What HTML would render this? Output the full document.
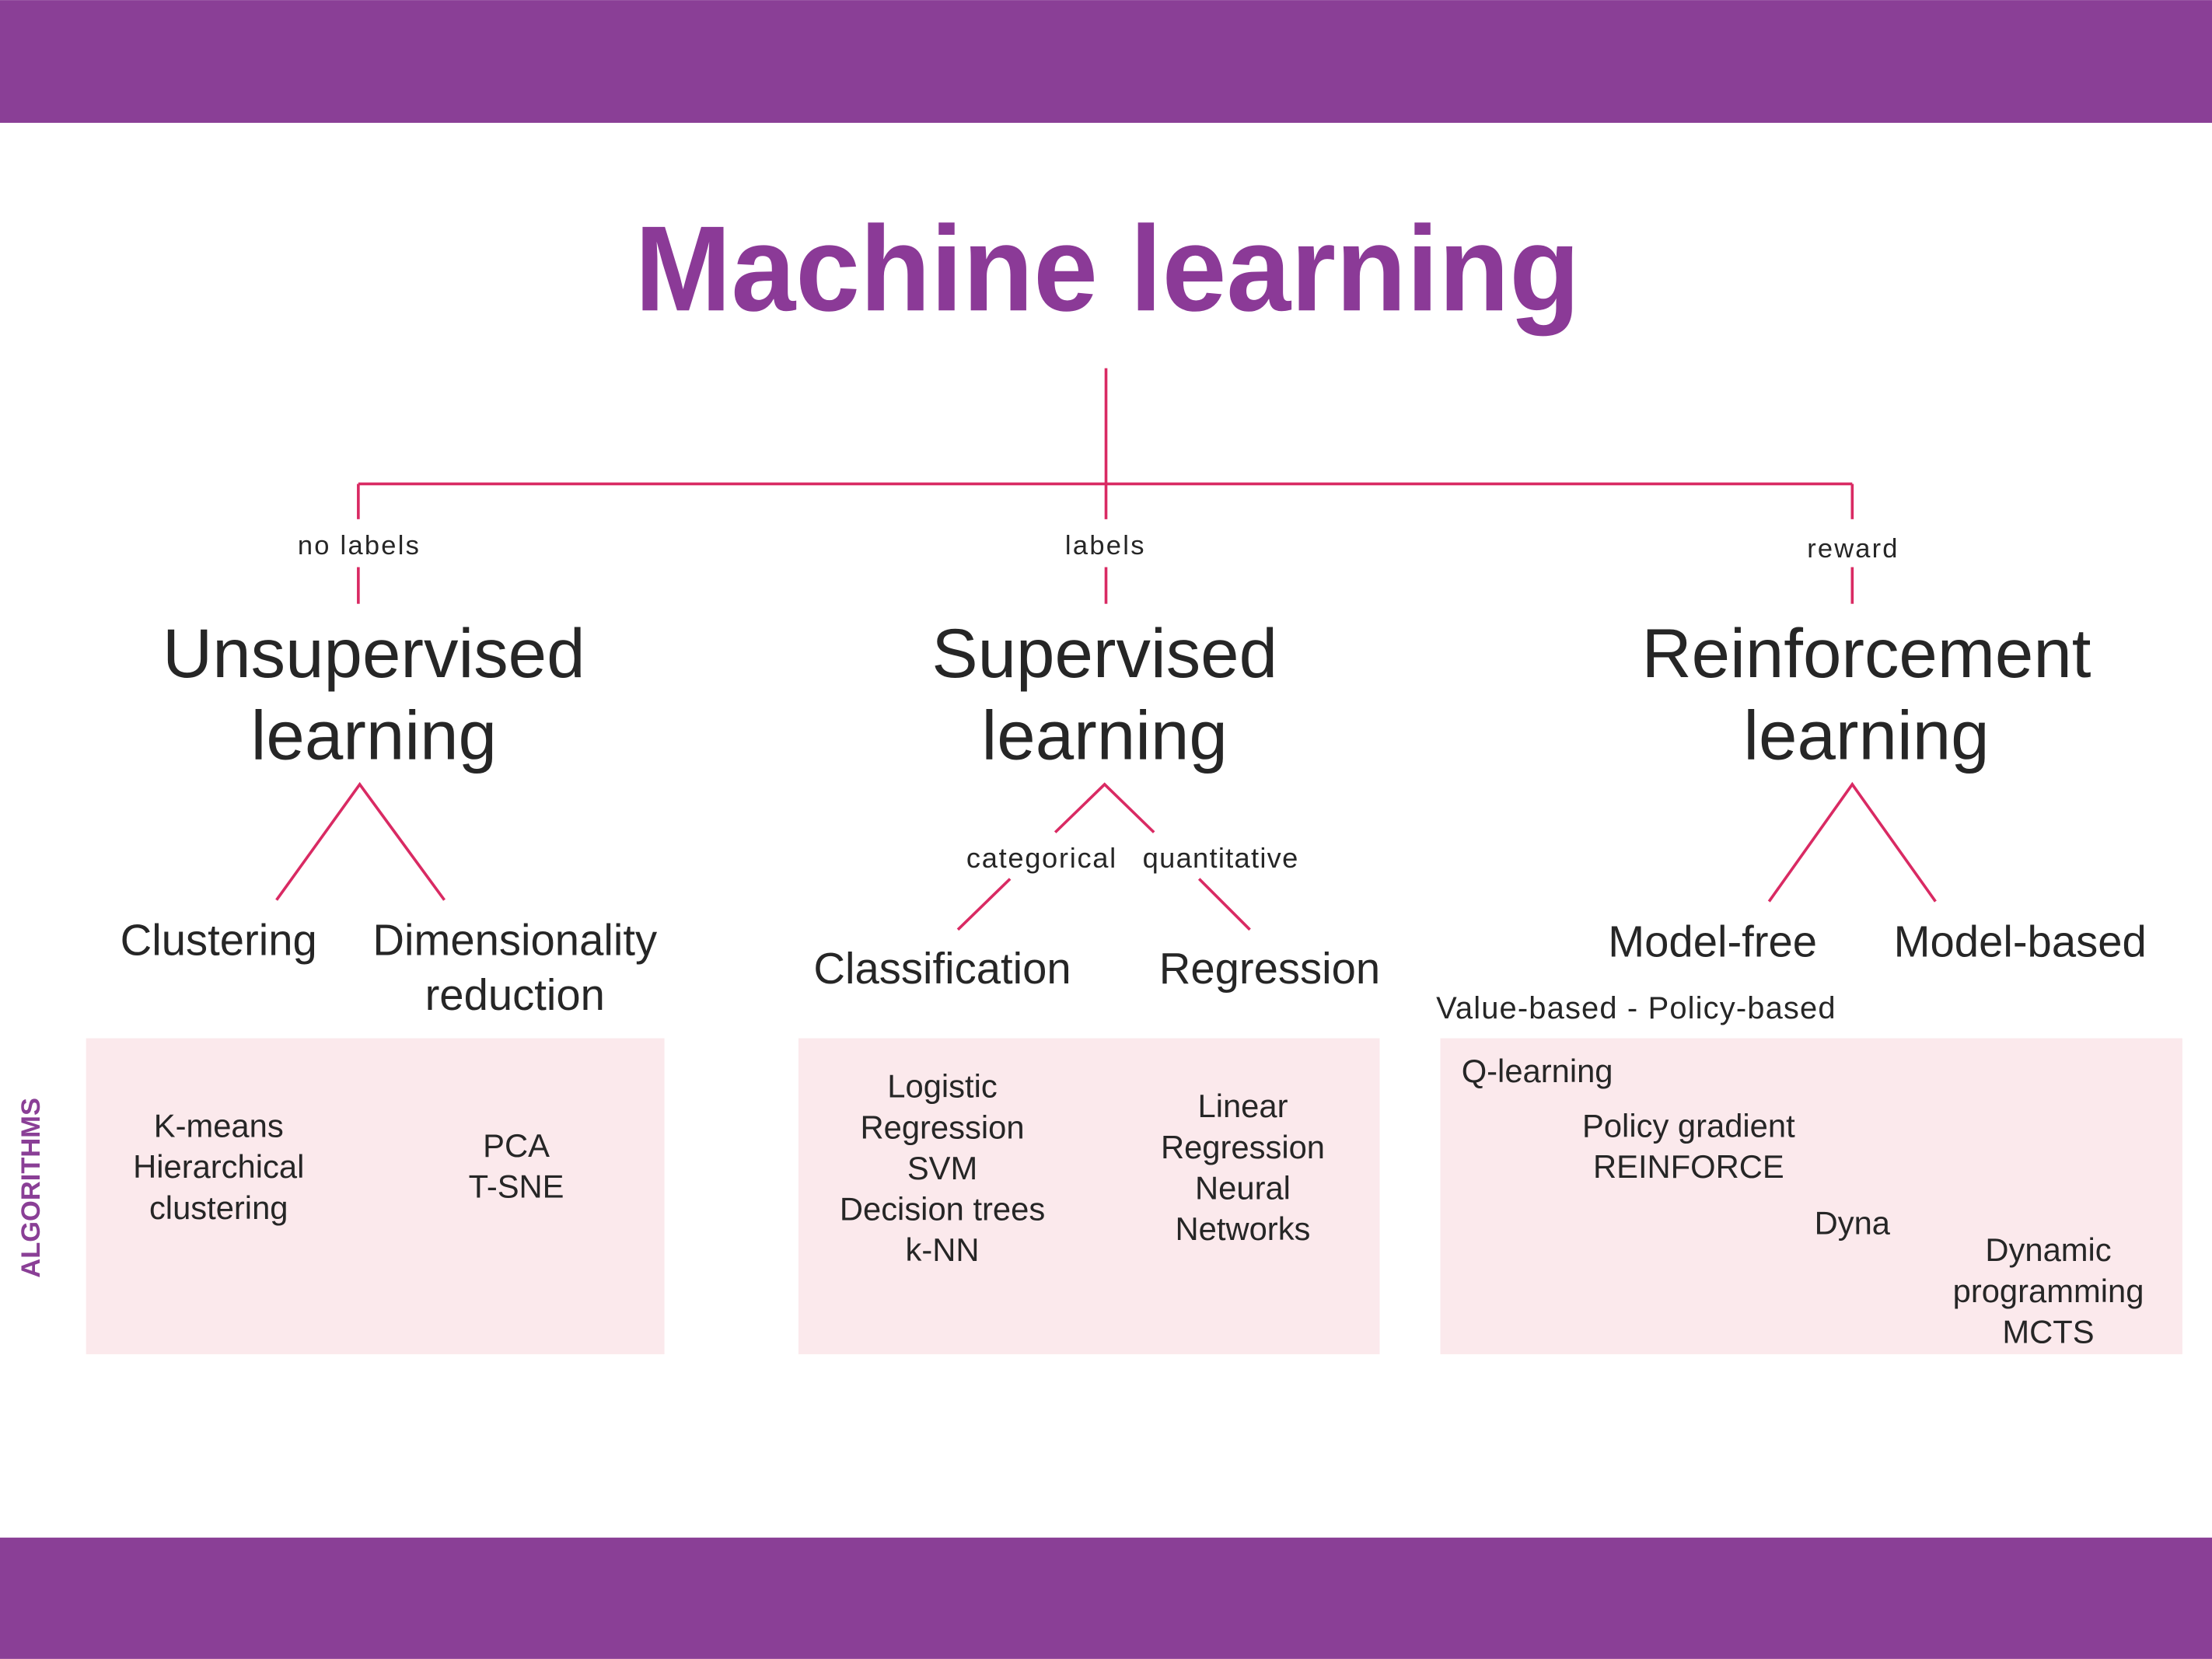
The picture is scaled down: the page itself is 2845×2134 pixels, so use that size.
<!DOCTYPE html>
<html><head><meta charset="utf-8"><style>
html,body{margin:0;padding:0;background:#fff;}
svg{display:block;}
text{font-family:"Liberation Sans",sans-serif;fill:#262626;}
</style></head><body>
<svg width="2845" height="2134" viewBox="0 0 1568 1176" xmlns="http://www.w3.org/2000/svg">
<rect x="0" y="0" width="1568" height="87" fill="#8a3f96"/>
<rect x="0" y="1090" width="1568" height="86" fill="#8a3f96"/>
<text x="785" y="220" text-anchor="middle" font-size="86" font-weight="bold" style="fill:#8b3a97" textLength="670" lengthAdjust="spacingAndGlyphs">Machine learning</text>
<g stroke="#d92a63" stroke-width="2" fill="none">
<line x1="784" y1="261" x2="784" y2="368"/>
<line x1="254" y1="343" x2="1313" y2="343"/>
<line x1="254" y1="343" x2="254" y2="368"/>
<line x1="1313" y1="343" x2="1313" y2="368"/>
<line x1="254" y1="402" x2="254" y2="428"/>
<line x1="784" y1="402" x2="784" y2="428"/>
<line x1="1313" y1="402" x2="1313" y2="428"/>
<polyline points="196,638 255,556 315,638"/>
<polyline points="748,590 783,556 818,590"/>
<line x1="716" y1="623" x2="679" y2="659"/>
<line x1="850" y1="623" x2="886" y2="659"/>
<polyline points="1254,639 1313,556 1372,639"/>
</g>
<g font-size="19" text-anchor="middle">
<text x="254" y="393" textLength="86">no labels</text>
<text x="783" y="393" textLength="56">labels</text>
<text x="1313" y="395" textLength="64">reward</text>
<text x="738" y="615" font-size="20" textLength="106">categorical</text>
<text x="865" y="615" font-size="20" textLength="110">quantitative</text>
</g>
<g font-size="49" text-anchor="middle">
<text x="265" y="480">Unsupervised</text>
<text x="265" y="538">learning</text>
<text x="783" y="480">Supervised</text>
<text x="783" y="538">learning</text>
<text x="1323" y="480">Reinforcement</text>
<text x="1323" y="538">learning</text>
</g>
<g font-size="31" text-anchor="middle">
<text x="155" y="677">Clustering</text>
<text x="365" y="677">Dimensionality</text>
<text x="365" y="716">reduction</text>
<text x="668" y="697">Classification</text>
<text x="900" y="697">Regression</text>
<text x="1214" y="678">Model-free</text>
<text x="1432" y="678">Model-based</text>
</g>
<text x="1018" y="722" font-size="22" textLength="283">Value-based - Policy-based</text>
<g fill="#fbe9ec">
<rect x="61" y="736" width="410" height="224"/>
<rect x="566" y="736" width="412" height="224"/>
<rect x="1021" y="736" width="526" height="224"/>
</g>
<text transform="translate(28,842) rotate(-90)" text-anchor="middle" font-size="19" font-weight="bold" style="fill:#8a3f96">ALGORITHMS</text>
<g font-size="23" text-anchor="middle">
<text x="155" y="806">K-means</text>
<text x="155" y="835">Hierarchical</text>
<text x="155" y="864">clustering</text>
<text x="366" y="820">PCA</text>
<text x="366" y="849">T-SNE</text>
<text x="668" y="778">Logistic</text>
<text x="668" y="807">Regression</text>
<text x="668" y="836">SVM</text>
<text x="668" y="865">Decision trees</text>
<text x="668" y="894">k-NN</text>
<text x="881" y="792">Linear</text>
<text x="881" y="821">Regression</text>
<text x="881" y="850">Neural</text>
<text x="881" y="879">Networks</text>
<text x="1197" y="806">Policy gradient</text>
<text x="1197" y="835">REINFORCE</text>
<text x="1313" y="875">Dyna</text>
<text x="1452" y="894">Dynamic</text>
<text x="1452" y="923">programming</text>
<text x="1452" y="952">MCTS</text>
</g>
<text x="1036" y="767" font-size="23">Q-learning</text>
</svg>
</body></html>
